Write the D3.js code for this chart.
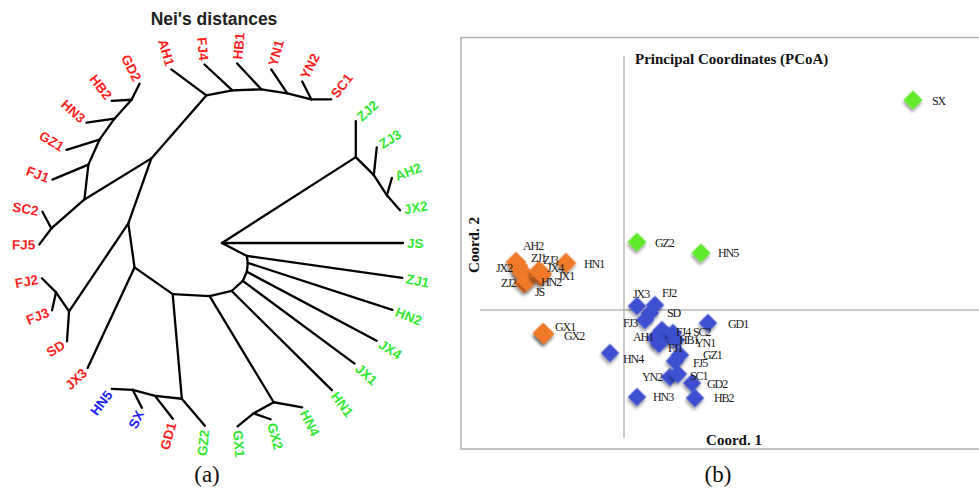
<!DOCTYPE html>
<html>
<head>
<meta charset="utf-8">
<script src="https://cdn.jsdelivr.net/npm/d3@7"></script>
<style>
  body { margin: 0; background: #fff; }
  svg { display: block; }
</style>
</head>
<body>
<svg id="fig" width="979" height="488"></svg>
<script>
// ---------- Data: unrooted tree of Nei's genetic distances ----------
// [node, parent, branch length]
const branches = [
  ["H0", "", 0],
  ["JS", "H0", 0.181],
  ["Z", "H0", 0.159],
  ["ZJ2", "Z", 0.036],
  ["Z2", "Z", 0.0255],
  ["ZJ3", "Z2", 0.028],
  ["Z3", "Z2", 0.024],
  ["AH2", "Z3", 0.018],
  ["JX2", "Z3", 0.020],
  ["A1", "H0", 0.028],
  ["ZJ1", "A1", 0.157],
  ["A2", "A1", 0.007],
  ["HN2", "A2", 0.152],
  ["A3", "A2", 0.009],
  ["JX4", "A3", 0.147],
  ["A4", "A3", 0.010],
  ["JX1", "A4", 0.139],
  ["A5", "A4", 0.015],
  ["HN1", "A5", 0.141],
  ["A6", "A5", 0.0226],
  ["G", "A6", 0.124],
  ["HN4", "G", 0.029],
  ["G2", "G", 0.023],
  ["GX2", "G2", 0.018],
  ["GX1", "G2", 0.0206],
  ["A7", "A6", 0.037],
  ["B", "A7", 0.105],
  ["GZ2", "B", 0.0355],
  ["B2", "B", 0.027],
  ["GD1", "B2", 0.029],
  ["B3", "B2", 0.023],
  ["SX", "B3", 0.020],
  ["HN5", "B3", 0.021],
  ["C", "A7", 0.0466],
  ["JX3", "C", 0.111],
  ["D", "C", 0.0444],
  ["E", "D", 0.106],
  ["SD", "E", 0.030],
  ["F", "E", 0.023],
  ["FJ2", "F", 0.020],
  ["FJ3", "F", 0.0184],
  ["M", "D", 0.069],
  ["T", "M", 0.0836],
  ["L", "M", 0.0785],
  ["S", "L", 0.044],
  ["FJ5", "S", 0.020],
  ["SC2", "S", 0.019],
  ["L1", "L", 0.035],
  ["FJ1", "L1", 0.039],
  ["L2", "L1", 0.0273],
  ["GZ1", "L2", 0.0345],
  ["L3", "L2", 0.0258],
  ["HN3", "L3", 0.0283],
  ["L4", "L3", 0.0255],
  ["HB2", "L4", 0.020],
  ["GD2", "L4", 0.0179],
  ["AH1", "T", 0.0436],
  ["T1", "T", 0.0265],
  ["FJ4", "T1", 0.038],
  ["T2", "T1", 0.029],
  ["HB1", "T2", 0.0354],
  ["T3", "T2", 0.0263],
  ["YN1", "T3", 0.0288],
  ["T4", "T3", 0.0247],
  ["YN2", "T4", 0.020],
  ["SC1", "T4", 0.020]
];

// leaf groups in the tree
const treeRed = ["AH1","FJ4","HB1","YN1","YN2","SC1","GD2","HB2","HN3","GZ1","FJ1","SC2","FJ5","FJ2","FJ3","SD","JX3","GD1"];
const treeGreen = ["ZJ2","ZJ3","AH2","JX2","JS","ZJ1","HN2","JX4","JX1","HN1","HN4","GX2","GX1","GZ2"];
const treeBlue = ["HN5","SX"];

// ---------- Data: principal coordinates ----------
const pcoaNames = ["SX","GZ2","HN5",
  "AH2","JX2","ZJ1","ZJ3","ZJ2","JS","JX4","HN2","JX1","HN1","GX1","GX2",
  "JX3","FJ2","SD","FJ3","FJ4","AH1","HB1","SC2","YN1","FJ1","GZ1","FJ5","YN2","SC1","GD2","HB2","HN3","HN4","GD1"];
const pcoaCoord1 = [1.445, 0.065, 0.385,
  -0.54, -0.53, -0.515, -0.505, -0.50, -0.485, -0.425, -0.42, -0.41, -0.29, -0.405, -0.40,
  0.065, 0.155, 0.13, 0.105, 0.19, 0.155, 0.22, 0.245, 0.26, 0.175, 0.28, 0.255, 0.23, 0.27, 0.34, 0.355, 0.065, -0.07, 0.42];
const pcoaCoord2 = [1.05, 0.34, 0.285,
  0.24, 0.22, 0.195, 0.18, 0.135, 0.145, 0.195, 0.17, 0.18, 0.235, -0.115, -0.12,
  0.02, 0.025, -0.015, -0.05, -0.10, -0.14, -0.13, -0.115, -0.15, -0.17, -0.225, -0.255, -0.335, -0.32, -0.365, -0.44, -0.435, -0.215, -0.065];
const pcoaGroup = ["g","g","g",
  "o","o","o","o","o","o","o","o","o","o","o","o",
  "b","b","b","b","b","b","b","b","b","b","b","b","b","b","b","b","b","b","b"];

// ---------- Layout settings ----------
// drawing direction of each branch (degrees, screen orientation)
const branchAngle = {
  JS: 0, Z: -32.7, ZJ2: -90, Z2: 45, ZJ3: -84, Z3: 57, AH2: -74, JX2: 49,
  A1: 27.5, ZJ1: 8, A2: 82, HN2: 18, A3: 96, JX4: 28, A4: 114, JX1: 36.5,
  A5: 138, HN1: 44.7, A6: 167, G: 58.9, HN4: 10, G2: 151, GX2: 19, GX1: 141,
  A7: 183, B: 85, GZ2: 49.6, B2: 186, GD1: 52, B3: 195, SX: 63, HN5: 183,
  C: 215, JX3: 115, D: 262, E: 124, SD: 94, F: 235.5, FJ2: 225, FJ3: 102.5,
  M: -70.5, T: -48.9, L: 148.5, S: 138.7, FJ5: 127, SC2: 242,
  L1: -83.5, FJ1: 157.4, L2: -66, GZ1: 163, L3: -54.5, HN3: 172, L4: -48, HB2: 177, GD2: -63.4,
  AH1: 216.6, T1: -11, FJ4: 222.9, T2: -2, HB1: 227, T3: 8.7, YN1: 236, T4: 14, YN2: 243, SC1: 0
};
const treeOrigin = [222, 243];

// label placement relative to each point [dx, dy]
const labelNudge = {
  SX: [19, 1], GZ2: [18, 1], HN5: [17, 0],
  AH2: [7, -16], JX2: [-22, 2], ZJ1: [10, -13], ZJ3: [20, -14], ZJ2: [-23, 0], JS: [8, 11],
  JX4: [8, -3], HN2: [1, 6], JX1: [16, 2], HN1: [18, 1], GX1: [12, -6], GX2: [20, 2],
  JX3: [-4, -12], FJ2: [7, -12], SD: [17, 0], FJ3: [-22, 3], FJ4: [14, 2], AH1: [-22, -1],
  HB1: [11, 4], SC2: [20, -1], YN1: [19, 3], FJ1: [9, 4], GZ1: [23, 0], FJ5: [18, 2],
  YN2: [-28, 0], SC1: [12, 2], GD2: [15, 1], HB2: [19, 0], HN3: [16, 0], HN4: [13, 6], GD1: [20, 1]
};

const treeColor = { r: "#ff1f1f", g: "#33e833", b: "#1f1fff" };
const pointColor = { o: "#f07a2c", b: "#3e4fd0", g: "#5fea2a" };
const pointArea = { o: 215, b: 170, g: 180 };

const svg = d3.select("#fig");
const defs = svg.append("defs");
const filt = defs.append("filter").attr("id", "shadow")
  .attr("x", "-60%").attr("y", "-60%").attr("width", "220%").attr("height", "220%");
filt.append("feDropShadow").attr("dx", 1.5).attr("dy", 2.5).attr("stdDeviation", 1.6)
  .attr("flood-color", "#000").attr("flood-opacity", 0.4);

// ---------- Left panel: tree ----------
const root = d3.stratify().id(d => d[0]).parentId(d => d[1])(branches);
const lenPx = d3.scaleLinear().domain([0, 0.1]).range([0, 100]);
root.eachBefore(n => {
  if (!n.parent) { n.x = treeOrigin[0]; n.y = treeOrigin[1]; return; }
  const a = branchAngle[n.id] * Math.PI / 180;
  const l = lenPx(n.data[2]);
  n.x = n.parent.x + l * Math.cos(a);
  n.y = n.parent.y + l * Math.sin(a);
});

const tree = svg.append("g");
tree.append("g").selectAll("line").data(root.links()).join("line")
  .attr("x1", d => d.source.x).attr("y1", d => d.source.y)
  .attr("x2", d => d.target.x).attr("y2", d => d.target.y)
  .attr("stroke", "#000").attr("stroke-width", 2.3).attr("stroke-linecap", "round");

const groupOf = id => treeRed.includes(id) ? "r" : treeGreen.includes(id) ? "g" : "b";
tree.append("g").selectAll("text").data(root.leaves()).join("text")
  .each(function (d) {
    const ang = Math.atan2(d.y - treeOrigin[1], d.x - treeOrigin[0]) * 180 / Math.PI;
    const right = Math.abs(ang) <= 90;
    d3.select(this)
      .attr("transform", `translate(${d.x},${d.y}) rotate(${right ? ang : ang - 180})`)
      .attr("x", right ? 4 : -4)
      .attr("text-anchor", right ? "start" : "end");
  })
  .attr("dy", "0.36em")
  .attr("font-family", "'Liberation Sans', Arial, sans-serif")
  .attr("font-weight", "bold").attr("font-size", 13.5)
  .attr("fill", d => treeColor[groupOf(d.id)])
  .text(d => d.id);

svg.append("text").attr("x", 214).attr("y", 25).attr("text-anchor", "middle")
  .attr("font-family", "'Liberation Sans', Arial, sans-serif").attr("font-weight", "bold")
  .attr("font-size", 17.5).attr("fill", "#222").text("Nei's distances");

svg.append("text").attr("x", 207).attr("y", 482).attr("text-anchor", "middle")
  .attr("font-family", "'Liberation Serif', 'Times New Roman', serif")
  .attr("font-size", 23).attr("fill", "#111").text("(a)");

// ---------- Right panel: PCoA ----------
const xS = d3.scaleLinear().domain([0, 1]).range([624, 824]);
const yS = d3.scaleLinear().domain([0, 1]).range([310, 110]);

const pc = svg.append("g");
pc.append("rect").attr("x", 461).attr("y", 37.5).attr("width", 540).attr("height", 411.5)
  .attr("fill", "none").attr("stroke", "#b0b0b0").attr("stroke-width", 1.5);

pc.append("line").attr("x1", xS(0)).attr("x2", xS(0)).attr("y1", 56).attr("y2", 438)
  .attr("stroke", "#999").attr("stroke-width", 1);
pc.append("line").attr("x1", 480).attr("x2", 979).attr("y1", yS(0)).attr("y2", yS(0))
  .attr("stroke", "#999").attr("stroke-width", 1);

const serif = "'Liberation Serif', 'Times New Roman', serif";
pc.append("text").attr("x", 635).attr("y", 64).attr("font-family", serif)
  .attr("font-weight", "bold").attr("font-size", 15).attr("fill", "#111")
  .text("Principal Coordinates (PCoA)");
pc.append("text").attr("x", 734).attr("y", 445).attr("text-anchor", "middle").attr("font-family", serif)
  .attr("font-weight", "bold").attr("font-size", 15).attr("fill", "#111").text("Coord. 1");
pc.append("text").attr("transform", "translate(479,245) rotate(-90)").attr("text-anchor", "middle")
  .attr("font-family", serif).attr("font-weight", "bold").attr("font-size", 15).attr("fill", "#111")
  .text("Coord. 2");

const pts = pcoaNames.map((name, i) => ({ name, x: pcoaCoord1[i], y: pcoaCoord2[i], grp: pcoaGroup[i] }));

pc.append("g").selectAll("path").data(pts).join("path")
  .attr("d", d => d3.symbol(d3.symbolSquare, pointArea[d.grp])())
  .attr("transform", d => `translate(${xS(d.x)},${yS(d.y)}) rotate(45)`)
  .attr("fill", d => pointColor[d.grp])
  .attr("filter", "url(#shadow)");

pc.append("g").selectAll("text").data(pts).join("text")
  .attr("x", d => xS(d.x) + (labelNudge[d.name] || [17, 0])[0])
  .attr("y", d => yS(d.y) + (labelNudge[d.name] || [17, 0])[1])
  .attr("dy", "0.35em")
  .attr("font-family", serif).attr("font-size", 12).attr("letter-spacing", -1.1)
  .attr("fill", "#1a1a1a")
  .text(d => d.name);

svg.append("text").attr("x", 718).attr("y", 482).attr("text-anchor", "middle")
  .attr("font-family", serif).attr("font-size", 23).attr("fill", "#111").text("(b)");
</script>
</body>
</html>
